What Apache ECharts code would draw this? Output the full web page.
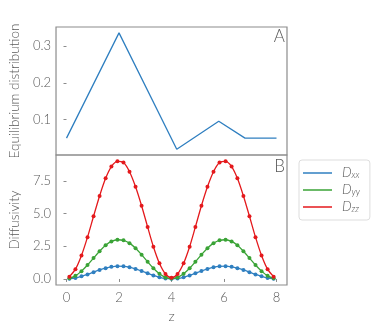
<!DOCTYPE html>
<html>
<head>
  <meta charset="UTF-8">
  <title>Equilibrium distribution / Diffusivity</title>
  <script src="https://cdn.jsdelivr.net/npm/echarts@6/dist/echarts.min.js"></script>
  <style>
    html, body { margin: 0; padding: 0; background: #fff; }
    #main { width: 373px; height: 333px; }
  </style>
</head>
<body>
<div id="main"></div>
<script type="text/javascript">
  // panel A: equilibrium distribution
  var popZ = [0, 2, 4.2, 5.8, 6.8, 8];
  var popVal = [0.05, 0.336, 0.02, 0.096, 0.05, 0.05];

  // panel B: diffusivity per bin
  var binZ = [0.11, 0.34, 0.57, 0.8, 1.03, 1.26, 1.49, 1.71, 1.94, 2.17, 2.4, 2.63, 2.86, 3.09, 3.31, 3.54, 3.77, 4.0,
              4.23, 4.46, 4.69, 4.91, 5.14, 5.37, 5.6, 5.83, 6.06, 6.29, 6.51, 6.74, 6.97, 7.2, 7.43, 7.66, 7.89];
  var dxx = [0.02, 0.08, 0.2, 0.35, 0.52, 0.69, 0.83, 0.93, 0.98, 0.97, 0.9, 0.77, 0.61, 0.44, 0.27, 0.13, 0.04, 0.01,
             0.04, 0.13, 0.27, 0.44, 0.61, 0.77, 0.9, 0.97, 0.98, 0.93, 0.83, 0.69, 0.52, 0.35, 0.2, 0.08, 0.02];
  var dyy = [0.05, 0.24, 0.6, 1.07, 1.6, 2.12, 2.57, 2.87, 3.0, 2.96, 2.74, 2.35, 1.86, 1.32, 0.82, 0.4, 0.12, 0.03,
             0.12, 0.4, 0.82, 1.32, 1.86, 2.35, 2.74, 2.96, 3.0, 2.87, 2.57, 2.12, 1.6, 1.07, 0.6, 0.24, 0.05];
  var dzz = [0.18, 0.75, 1.8, 3.2, 4.8, 6.35, 7.7, 8.6, 9.0, 8.9, 8.2, 7.05, 5.6, 3.98, 2.47, 1.2, 0.38, 0.1,
             0.38, 1.2, 2.47, 3.98, 5.6, 7.05, 8.2, 8.9, 9.0, 8.6, 7.7, 6.35, 4.8, 3.2, 1.8, 0.75, 0.18];

  var xTicks = [0, 2, 4, 6, 8];
  var popTicks = [0.1, 0.2, 0.3];
  var diffTicks = [0, 2.5, 5, 7.5];

  var seriesNames = ['Dxx', 'Dyy', 'Dzz'];
  var colors = ['#2f7fc0', '#3aa336', '#e4191c'];

  function zip(xs, ys) {
    return xs.map(function (x, i) { return [x, ys[i]]; });
  }

  var font = 'Lato, "DejaVu Sans", sans-serif';
  var textGray = '#595959';
  var frameGray = '#8c8c8c';

  var myChart = echarts.init(document.getElementById('main'));

  var diffSeries = [dxx, dyy, dzz].map(function (vals, k) {
    return {
      name: seriesNames[k],
      type: 'line',
      xAxisIndex: 1,
      yAxisIndex: 1,
      smooth: 0.3,
      symbol: 'circle',
      symbolSize: 4,
      showAllSymbol: true,
      lineStyle: { color: colors[k], width: 1.3 },
      itemStyle: { color: colors[k] },
      data: zip(binZ, vals),
      z: 2 + k
    };
  });

  function tickAxis(ticks) {
    return { show: true, length: 3, customValues: ticks, lineStyle: { color: frameGray, width: 1 } };
  }

  var option = {
    animation: false,
    textStyle: { fontFamily: font },
    grid: [
      { left: 52, top: 27, width: 235, height: 128, show: true, borderColor: frameGray, borderWidth: 1.2 },
      { left: 52, top: 155, width: 235, height: 130, show: true, borderColor: frameGray, borderWidth: 1.2 }
    ],
    xAxis: [
      {
        type: 'value', gridIndex: 0, min: -0.4, max: 8.4,
        axisLine: { show: false }, axisTick: { show: false },
        axisLabel: { show: false }, splitLine: { show: false }
      },
      {
        type: 'value', gridIndex: 1, min: -0.4, max: 8.4,
        name: 'z', nameLocation: 'middle', nameGap: 24,
        nameTextStyle: { color: textGray, fontSize: 14, fontWeight: 300, fontFamily: font },
        axisLine: { show: false },
        axisTick: tickAxis(xTicks),
        axisLabel: { customValues: xTicks, color: textGray, fontSize: 13, fontWeight: 300, margin: 6, fontFamily: font },
        splitLine: { show: false }
      }
    ],
    yAxis: [
      {
        type: 'value', gridIndex: 0, min: 0.0042, max: 0.352,
        name: 'Equilibrium distribution', nameLocation: 'middle', nameGap: 30,
        nameTextStyle: { color: textGray, fontSize: 13.5, fontWeight: 300, fontFamily: font },
        axisLine: { show: false },
        axisTick: tickAxis(popTicks),
        axisLabel: {
          customValues: popTicks, color: textGray, fontSize: 13, fontWeight: 300, margin: 5, fontFamily: font,
          formatter: function (v) { return v.toFixed(1); }
        },
        splitLine: { show: false }
      },
      {
        type: 'value', gridIndex: 1, min: -0.46, max: 9.48,
        name: 'Diffusivity', nameLocation: 'middle', nameGap: 30,
        nameTextStyle: { color: textGray, fontSize: 13.5, fontWeight: 300, fontFamily: font },
        axisLine: { show: false },
        axisTick: tickAxis(diffTicks),
        axisLabel: {
          customValues: diffTicks, color: textGray, fontSize: 13, fontWeight: 300, margin: 5, fontFamily: font,
          formatter: function (v) { return v.toFixed(1); }
        },
        splitLine: { show: false }
      }
    ],
    legend: {
      data: seriesNames,
      orient: 'vertical',
      left: 299,
      top: 160,
      icon: 'rect',
      itemWidth: 29,
      itemHeight: 1.5,
      itemGap: 3,
      padding: [6, 10, 6, 4],
      borderColor: '#ddd',
      borderWidth: 1,
      borderRadius: 3,
      formatter: function (n) {
        return '{i|D}{s|' + n.slice(1) + '}';
      },
      textStyle: {
        rich: {
          i: { fontStyle: 'italic', fontSize: 13.5, fontWeight: 300, color: textGray, fontFamily: font, lineHeight: 12, padding: [0, 0, 0, 5] },
          s: { fontStyle: 'italic', fontSize: 9, fontWeight: 300, color: textGray, fontFamily: font, verticalAlign: 'bottom', padding: [5, 0, 0, 0] }
        }
      }
    },
    graphic: [
      { type: 'text', right: 373 - 285, top: 28, style: { text: 'A', fontSize: 17, fontWeight: 300, fill: textGray, fontFamily: font } },
      { type: 'text', right: 373 - 285, top: 158, style: { text: 'B', fontSize: 17, fontWeight: 300, fill: textGray, fontFamily: font } }
    ],
    series: [
      {
        name: 'population',
        type: 'line',
        xAxisIndex: 0,
        yAxisIndex: 0,
        symbol: 'none',
        lineStyle: { color: colors[0], width: 1.3 },
        data: zip(popZ, popVal)
      }
    ].concat(diffSeries)
  };

  myChart.setOption(option);
</script>
</body>
</html>
